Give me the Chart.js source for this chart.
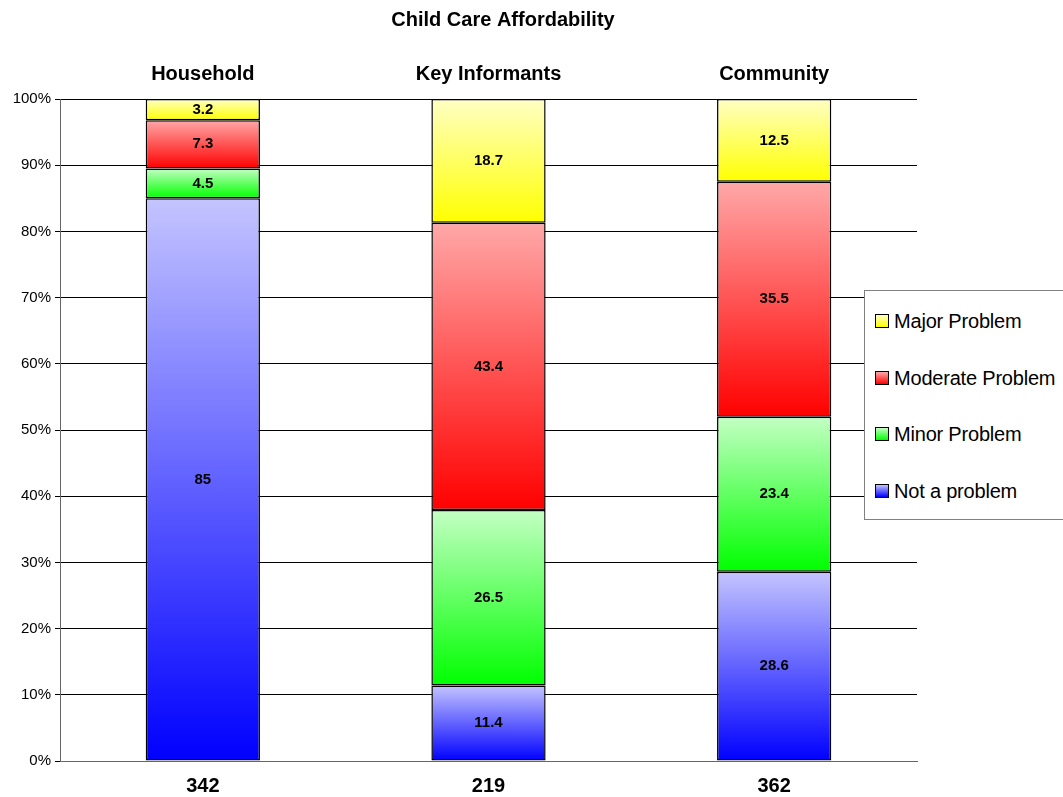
<!DOCTYPE html>
<html>
<head>
<meta charset="utf-8">
<script src="https://cdn.jsdelivr.net/npm/chart.js@4.4.1/dist/chart.umd.min.js"></script>
<style>
  body { margin: 0; background: #fff; font-family: Arial, "Liberation Sans", sans-serif; }
  #wrap { position: relative; width: 1063px; height: 797px; }
  #legend {
    position: absolute; left: 864px; top: 290px; width: 198px; height: 228px;
    border: 1px solid #808080; background: #fff; box-sizing: content-box;
  }
  .item { position: absolute; left: 10px; height: 22px; display: flex; align-items: center;
    font-size: 20px; color: #000; white-space: nowrap; letter-spacing: -0.2px; }
  .sw { width: 12px; height: 12px; border: 1px solid #000; margin-right: 5px; }
</style>
</head>
<body>
<div id="wrap">
  <canvas id="myChart"></canvas>
  <div id="legend"></div>
</div>
<script>
// chart data
const groups = ["Household", "Key Informants", "Community"];
const sampleSizes = ["342", "219", "362"];
const notProblem = [85, 11.4, 28.6];
const minorProblem = [4.5, 26.5, 23.4];
const moderateProblem = [7.3, 43.4, 35.5];
const majorProblem = [3.2, 18.7, 12.5];

// light (top) and strong (bottom) colour of each segment
const blueShade = ['#c4c4ff', '#0000ff'];
const greenShade = ['#c4ffc4', '#00ff00'];
const redShade = ['#ffa8a8', '#ff0000'];
const yellowShade = ['#ffffc4', '#ffff00'];

const fontFamily = 'Arial, "Liberation Sans", sans-serif';

// vertical gradient for one stacked segment
function segmentGradient(shade) {
  return function(context) {
    const chart = context.chart;
    const yScale = chart.scales.y;
    if (!chart.chartArea || !yScale || context.dataIndex === undefined) return shade[1];
    let below = 0;
    for (let d = 0; d < context.datasetIndex; d++) {
      below += chart.data.datasets[d].data[context.dataIndex];
    }
    const value = chart.data.datasets[context.datasetIndex].data[context.dataIndex];
    const top = yScale.getPixelForValue(below + value);
    const bottom = yScale.getPixelForValue(below);
    if (!isFinite(top) || !isFinite(bottom) || top === bottom) return shade[1];
    const g = chart.ctx.createLinearGradient(0, top, 0, bottom);
    g.addColorStop(0, shade[0]);
    g.addColorStop(1, shade[1]);
    return g;
  };
}

function makeDataset(label, data, shade) {
  return {
    label: label,
    data: data,
    shade: shade,
    backgroundColor: segmentGradient(shade),
    borderColor: '#000',
    borderWidth: 1.5,
    borderSkipped: false,
    inflateAmount: 0,
    categoryPercentage: 1,
    barPercentage: 0.4,
    xAxisID: 'x'
  };
}

// value written in the middle of every segment
const valueLabels = {
  id: 'valueLabels',
  afterDatasetsDraw(chart) {
    const ctx = chart.ctx;
    ctx.save();
    ctx.font = 'bold 15px ' + fontFamily;
    ctx.fillStyle = '#000';
    ctx.textAlign = 'center';
    ctx.textBaseline = 'middle';
    chart.data.datasets.forEach((ds, i) => {
      chart.getDatasetMeta(i).data.forEach((bar, j) => {
        ctx.fillText(String(ds.data[j]), bar.x, (bar.y + bar.base) / 2);
      });
    });
    ctx.restore();
  }
};

// title text
const titleText = {
  id: 'titleText',
  afterDraw(chart) {
    const ctx = chart.ctx;
    ctx.save();
    ctx.font = 'bold 20px ' + fontFamily;
    ctx.fillStyle = '#000';
    ctx.textAlign = 'center';
    ctx.textBaseline = 'middle';
    ctx.fillText('Child Care Affordability', 503, 20);
    ctx.restore();
  }
};

// boxed legend on the right, built from the datasets
function buildLegend(chart) {
  const box = document.getElementById('legend');
  box.innerHTML = '';
  const rows = [320, 377, 433, 490];
  chart.data.datasets.slice().reverse().forEach((ds, k) => {
    const item = document.createElement('div');
    item.className = 'item';
    item.style.top = (rows[k] - 290 - 11) + 'px';
    const sw = document.createElement('span');
    sw.className = 'sw';
    sw.style.background = 'linear-gradient(' + ds.shade[0] + ', ' + ds.shade[1] + ')';
    item.appendChild(sw);
    item.appendChild(document.createTextNode(ds.label));
    box.appendChild(item);
  });
}

const ctx = document.getElementById('myChart').getContext('2d');
const myChart = new Chart(ctx, {
  type: 'bar',
  data: {
    labels: groups,
    datasets: [
      makeDataset('Not a problem', notProblem, blueShade),
      makeDataset('Minor Problem', minorProblem, greenShade),
      makeDataset('Moderate Problem', moderateProblem, redShade),
      makeDataset('Major Problem', majorProblem, yellowShade)
    ]
  },
  options: {
    responsive: true,
    maintainAspectRatio: false,
    animation: false,
    layout: { padding: { left: 0, right: 146, top: 0, bottom: 0 } },
    plugins: {
      legend: { display: false },
      title: { display: false },
      tooltip: { enabled: false }
    },
    scales: {
      x: {
        position: 'bottom',
        stacked: true,
        offset: true,
        labels: sampleSizes,
        grid: { display: false, drawTicks: false },
        border: { display: true, color: '#666' },
        ticks: {
          color: '#000',
          padding: 13,
          font: { family: fontFamily, size: 20, weight: 'bold' }
        },
        afterFit(scale) { scale.height = 36; }
      },
      x2: {
        type: 'category',
        position: 'top',
        offset: true,
        labels: groups,
        grid: { display: false, drawTicks: false },
        border: { display: false },
        ticks: {
          color: '#000',
          padding: 13,
          font: { family: fontFamily, size: 20, weight: 'bold' }
        },
        afterFit(scale) { scale.height = 99; }
      },
      y: {
        stacked: true,
        min: 0,
        max: 100,
        grid: { color: '#000', lineWidth: 1, tickLength: 5 },
        border: { display: true, color: '#666' },
        ticks: {
          stepSize: 10,
          color: '#000',
          padding: 4,
          font: { family: fontFamily, size: 15 },
          callback: function(value) { return value + '%'; }
        },
        afterFit(scale) { scale.width = 60; }
      }
    }
  },
  plugins: [valueLabels, titleText]
});

buildLegend(myChart);
</script>
</body>
</html>
